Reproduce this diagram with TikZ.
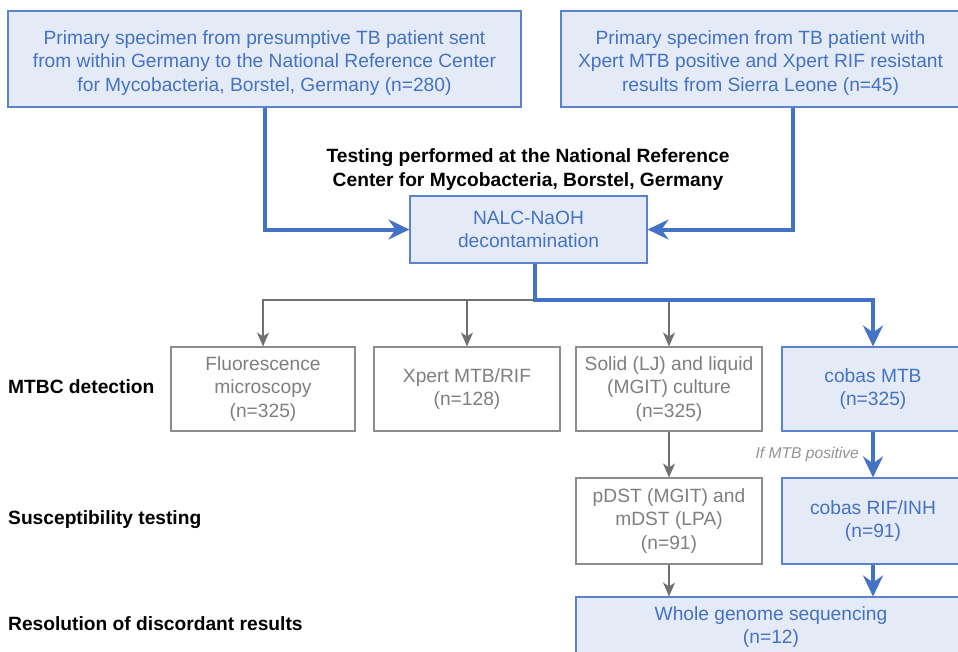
\documentclass[tikz,border=0pt]{standalone}
\usepackage{fontspec}
\setmainfont{Liberation Sans}
\usetikzlibrary{arrows.meta}
\definecolor{bltext}{HTML}{4472C4}
\definecolor{blfill}{HTML}{E4EAF6}
\definecolor{blline}{HTML}{5A82CE}
\definecolor{blarrow}{HTML}{4472C4}
\definecolor{grtext}{HTML}{7F7F7F}
\definecolor{grline}{HTML}{8C8C8C}
\definecolor{grarrow}{HTML}{707070}
\tikzset{
  txt/.style={font=\fontsize{19.2}{23.5}\selectfont, align=center},
  bluebox/.style={txt, draw=blline, line width=1.1pt, fill=blfill, text=bltext, inner sep=0pt},
  graybox/.style={txt, draw=grline, line width=1.1pt, fill=white, text=grtext, inner sep=0pt},
  toptext/.style={txt, text=bltext, inner sep=0pt, yshift=-4pt},
  bluearrow/.style={draw=blarrow, line width=4pt, -{Stealth[length=21pt,width=20pt,inset=7pt]}},
  grayarrow/.style={draw=grarrow, line width=1.3pt, -{Stealth[length=14pt,width=12pt,inset=4pt]}},
  sidelabel/.style={font=\fontsize{19.2}{23.5}\selectfont\bfseries, anchor=west, inner sep=0pt},
}
\begin{document}
\begin{tikzpicture}[x=1pt,y=-1pt]
\useasboundingbox (0,0) rectangle (958,651);
\clip (0,0) rectangle (958,651);
% top boxes
\node[bluebox, minimum width=513pt, minimum height=96pt,
  label={[toptext]center:{Primary specimen from presumptive TB patient sent\\from within Germany to the National Reference Center\\for Mycobacteria, Borstel, Germany (n=280)}}] (b1) at (264.5,59) {};
\node[bluebox, minimum width=399pt, minimum height=96pt,
  label={[toptext]center:{Primary specimen from TB patient with\\Xpert MTB positive and Xpert RIF resistant\\results from Sierra Leone (n=45)}}] (b2) at (760.5,59) {};
% title
\node[font=\fontsize{19.2}{24}\selectfont\bfseries, align=center, inner sep=0pt] (title) at (528,170)
  {Testing performed at the National Reference\\Center for Mycobacteria, Borstel, Germany};
% NALC
\node[bluebox, minimum width=237pt, minimum height=67pt] (nalc) at (528.5,229.5)
  {NALC-NaOH\\decontamination};
% detection row
\node[graybox, minimum width=184pt, minimum height=84pt] (fm) at (263,389)
  {Fluorescence\\microscopy\\(n=325)};
\node[graybox, minimum width=186pt, minimum height=84pt] (xp) at (467,389)
  {Xpert MTB/RIF\\(n=128)};
\node[graybox, minimum width=186pt, minimum height=84pt] (sl) at (669,389)
  {Solid (LJ) and liquid\\(MGIT) culture\\(n=325)};
\node[bluebox, minimum width=182pt, minimum height=84pt] (cmtb) at (873,389)
  {cobas MTB\\(n=325)};
% susceptibility row
\node[graybox, minimum width=186pt, minimum height=86pt] (pdst) at (669,521)
  {pDST (MGIT) and\\mDST (LPA)\\(n=91)};
\node[bluebox, minimum width=182pt, minimum height=86pt] (crif) at (873,521)
  {cobas RIF/INH\\(n=91)};
% WGS
\node[bluebox, minimum width=390pt, minimum height=60pt] (wgs) at (771,627)
  {Whole genome sequencing\\(n=12)};
% side labels
\node[sidelabel] (l1) at (8,387) {MTBC detection};
\node[sidelabel] (l2) at (8,520) {Susceptibility testing};
\node[sidelabel] (l3) at (8,624) {Resolution of discordant results};
% note
\node[font=\fontsize{15.6}{18}\selectfont\itshape, text=grtext!85, anchor=east, inner sep=0pt] (note) at (859,454) {If MTB positive};
% connectors
\coordinate (split) at (535,300);
\draw[grayarrow] (split) -| (fm.north);
\draw[grayarrow] (xp.north |- split) -- (xp.north);
\draw[grayarrow] (sl.north |- split) -- (sl.north);
\draw[grayarrow] (sl.south) -- (pdst.north);
\draw[grayarrow] (pdst.south) -- (pdst.south |- wgs.north);
\draw[bluearrow] (b1.south) |- (nalc.west);
\draw[bluearrow] ([xshift=32.5pt]b2.south) |- (nalc.east);
\draw[bluearrow] (nalc.south -| split) -- (split) -| (cmtb.north);
\draw[bluearrow] (cmtb.south) -- (crif.north);
\draw[bluearrow] (crif.south) -- (crif.south |- wgs.north);
\end{tikzpicture}
\end{document}
